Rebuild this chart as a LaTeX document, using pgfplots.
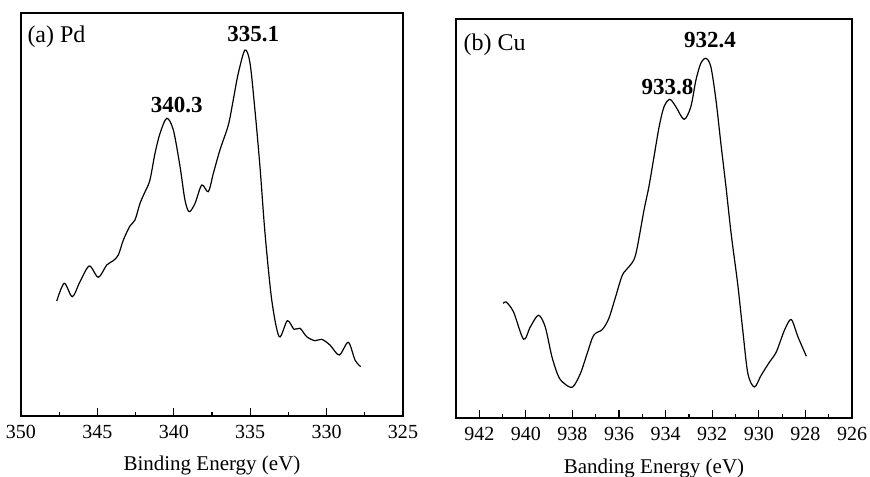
\documentclass[border=0pt]{standalone}
\usepackage{pgfplots}
\pgfplotsset{compat=1.18}
\usepackage{fontspec}
\setmainfont{Liberation Serif}
\begin{document}
\begin{tikzpicture}
\useasboundingbox (0pt,0pt) rectangle (435pt,238pt);
\pgfplotsset{
  every axis/.append style={
    scale only axis,
    x dir=reverse,
    axis line style={line width=0.8pt},
    ytick=\empty,
    xtick pos=bottom,
    tick align=inside,
    major tick length=4pt,
    minor tick length=2pt,
    minor x tick num=1,
    tick style={line width=0.6pt,black},
    /pgf/number format/assume math mode=true,
    tick label style={font=\fontsize{10}{11}\selectfont},
    xticklabel style={yshift=-1pt},
    label style={font=\fontsize{10.5}{12}\selectfont},
    ymin=0,
  }
}
\begin{axis}[at={(10.5pt,30pt)},anchor=south west,width=191pt,height=201.5pt,
  xmin=325,xmax=350,ymax=403,
  xtick={325,330,335,340,345,350},
  xlabel={Binding Energy (eV)},
  xlabel style={yshift=-2pt}]
\addplot[black,line width=0.6pt,smooth,tension=0.5] coordinates {
(347.66,115) (347.17,132.7) (346.64,119.3) (346.14,134.3) (345.53,150)
(344.94,138.7) (344.39,151) (343.96,155.3) (343.63,161) (343.30,176)
(342.87,190) (342.54,196) (342.21,212.7) (341.88,224.3)
(341.56,236) (341.23,262.7) (340.90,282.7) (340.46,297.7) (340.03,286)
(339.59,249.3) (339.27,216) (338.99,204.3) (338.61,212.7) (338.17,231)
(337.74,224.3) (337.41,242.7) (336.98,266) (336.43,291) (336.11,316)
(335.78,342.7) (335.34,366) (335.01,352.7) (334.69,306) (334.36,249.3)
(334.03,182.7) (333.59,116) (333.10,79.3) (332.57,95.3)
(332.13,86.7) (331.74,87.7) (331.30,79.3) (330.76,75.3) (330.32,76.7)
(329.78,71) (329.17,61) (328.58,73.7) (328.14,56) (327.77,49.3)
};
\node[anchor=west,inner sep=0pt,font=\fontsize{12}{13}\selectfont] at (axis cs:349.6,379) {(a) Pd};
\node[font=\fontsize{11.5}{13}\selectfont\bfseries] at (axis cs:339.81,311) {340.3};
\node[font=\fontsize{11.5}{13}\selectfont\bfseries] at (axis cs:334.8,381.7) {335.1};
\end{axis}
\begin{axis}[at={(228pt,29pt)},anchor=south west,width=198pt,height=199.5pt,
  xmin=926,xmax=943,ymax=398.7,
  xtick={926,928,930,932,934,936,938,940,942},
  xlabel={Banding Energy (eV)},
  xlabel style={yshift=-2.5pt}]
\addplot[black,line width=0.6pt,smooth,tension=0.5] coordinates {
(940.97,114.4) (940.85,116) (940.53,106) (940.10,78.7) (939.81,91)
(939.46,102.7) (939.17,91) (938.88,61) (938.59,41) (938.31,33.7)
(937.99,31) (937.66,44.4) (937.37,64.4) (937.09,82.7) (936.72,88.4)
(936.44,99.4) (936.15,121) (935.86,142.7) (935.58,151) (935.29,163)
(934.93,207.7) (934.72,231) (934.50,261) (934.28,291)
(934.07,311) (933.82,318.4) (933.56,311) (933.21,298.4) (932.92,311)
(932.70,337.7) (932.49,354.4) (932.27,359.4) (932.06,351) (931.84,317.7)
(931.63,274.4) (931.41,231) (931.19,184.4) (930.91,134.4)
(930.69,87.7) (930.47,44.4) (930.19,31) (929.90,42.7) (929.54,56)
(929.25,66) (928.90,87.7) (928.61,98.4) (928.32,81) (927.96,61.7)
};
\node[anchor=west,inner sep=0pt,font=\fontsize{12}{13}\selectfont] at (axis cs:942.69,372.7) {(b) Cu};
\node[font=\fontsize{11.5}{13}\selectfont\bfseries] at (axis cs:933.92,331) {933.8};
\node[font=\fontsize{11.5}{13}\selectfont\bfseries] at (axis cs:932.10,377.7) {932.4};
\end{axis}
\end{tikzpicture}
\end{document}
